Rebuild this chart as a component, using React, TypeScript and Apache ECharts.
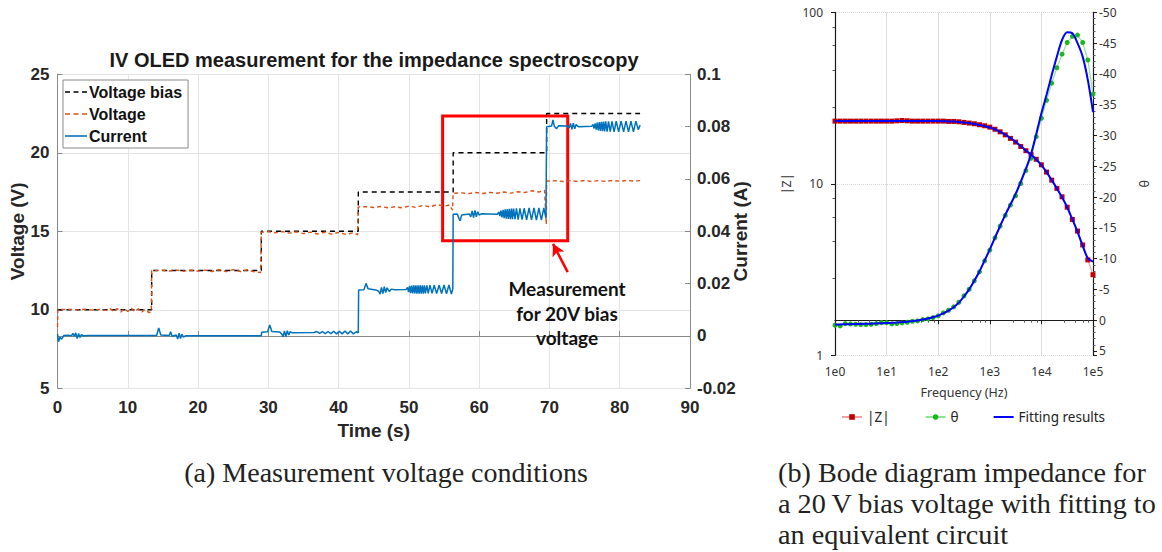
import { useEffect, useRef } from "react";
import * as echarts from "echarts";

// ---------- (a) IV OLED measurement ----------
// Voltage bias set-points [time s, V]
const voltageBias: number[][] = [
  [0, 10], [13.4, 10], [13.4, 12.5], [29.0, 12.5], [29.0, 15], [42.8, 15],
  [42.8, 17.5], [56.3, 17.5], [56.3, 20], [69.6, 20], [69.6, 22.5], [82.9, 22.5],
];

// Measured voltage [time s, V]
const voltageMeasured: number[][] = [
  [0, 8.9], [0.05, 10.02], [2, 10.03], [3, 9.99], [4, 10.04], [5, 9.98], [6, 10.03], [7, 9.96],
  [7.5, 10.06], [8, 9.9], [8.5, 10.08], [9, 9.86], [9.5, 10.06], [10, 9.9], [10.5, 10.1],
  [11, 9.88], [11.5, 10.06], [12, 9.86], [12.5, 10.02], [13.0, 9.82], [13.35, 9.88],
  [13.4, 12.5], [15, 12.52], [16, 12.47], [17, 12.53], [18, 12.46], [19, 12.52], [20, 12.46],
  [21, 12.53], [22, 12.44], [23, 12.55], [24, 12.43], [25, 12.56], [26, 12.44], [27, 12.55],
  [28, 12.42], [28.9, 12.38],
  [29.0, 14.95], [30, 14.97], [31, 14.9], [32, 14.98], [33, 14.88], [34, 14.96], [35, 14.85],
  [36, 14.95], [37, 14.83], [38, 14.94], [39, 14.82], [40, 14.93], [41, 14.8], [42, 14.9], [42.7, 14.78],
  [42.8, 16.55], [44, 16.57], [45, 16.52], [46, 16.58], [47, 16.5], [48, 16.56], [49, 16.5],
  [50, 16.6], [51, 16.52], [52, 16.65], [53, 16.55], [54, 16.7], [55, 16.6], [55.8, 16.68], [56.2, 16.35],
  [56.3, 17.42], [57.5, 17.45], [58.5, 17.4], [59.5, 17.47], [60.5, 17.41], [61.5, 17.48],
  [62.5, 17.42], [63.5, 17.5], [64.5, 17.43], [65.5, 17.52], [66.5, 17.47], [67.5, 17.58],
  [68.5, 17.5], [69.3, 17.62], [69.55, 15.45],
  [69.6, 18.2], [71, 18.22], [72, 18.17], [73, 18.23], [74, 18.18], [75, 18.24], [76, 18.17],
  [77, 18.23], [78, 18.18], [79, 18.24], [80, 18.19], [81, 18.24], [82, 18.2], [82.9, 18.23],
];

// Measured current [time s, A]
const currentMeasured: number[][] = [
  [0, 0.0008], [0.15, -0.0022], [0.35, -0.0005], [0.6, -0.0012], [0.9, 0.0002], [1.5, 0.0003],
  [2.0, 0.0001], [2.2, 0.001], [2.4, -0.0002], [2.6, 0.0012], [2.8, -0.001], [3.0, 0.0009],
  [3.2, -0.0006], [3.4, 0.0005], [3.7, 0.0001], [4.5, 0.0002],
  [14.1, 0.0002], [14.4, 0.0031], [14.7, 0.0004], [15.9, 0.0002], [16.1, 0.0016], [16.3, -0.0001],
  [16.9, 0.0004], [17.1, -0.0012], [17.3, 0.0011], [17.5, -0.001], [17.7, 0.0007], [17.9, -0.0004],
  [18.3, 0.0001], [29.0, 0.0001],
  [29.05, 0.0014], [29.9, 0.0016], [30.2, 0.0042], [30.5, 0.0017], [31.6, 0.0015], [31.9, 0.0008],
  [32.1, -0.0003], [32.3, 0.0019], [32.5, -0.0002], [32.7, 0.002], [32.9, 0.0004], [33.1, 0.0016],
  [33.4, 0.0012], [36.5, 0.0013], [36.9, 0.0017], [37.3, 0.001], [37.7, 0.0017], [38.1, 0.0009],
  [38.5, 0.0017], [38.9, 0.0009], [39.3, 0.0018], [39.7, 0.0008], [40.1, 0.0018], [40.5, 0.0008],
  [40.9, 0.0019], [41.3, 0.0008], [41.7, 0.0019], [42.1, 0.0008], [42.5, 0.0016], [42.8, 0.0012],
  [42.85, 0.0176], [43.6, 0.0177], [43.9, 0.0201], [44.2, 0.018], [45.3, 0.0176], [45.7, 0.0171],
  [45.9, 0.016], [46.1, 0.0186], [46.3, 0.0162], [46.5, 0.0188], [46.7, 0.0166], [46.9, 0.0184],
  [47.2, 0.017], [47.5, 0.0179], [48.0, 0.0177], [49.6, 0.0178],
  [49.8, 0.0186], [49.95, 0.0168], [50.1, 0.0191], [50.25, 0.0164], [50.4, 0.0192], [50.55, 0.0163],
  [50.7, 0.0193], [50.85, 0.0163], [51.0, 0.0193], [51.15, 0.0162], [51.3, 0.0193], [51.45, 0.0162],
  [51.6, 0.0193], [51.75, 0.0162], [51.9, 0.0193], [52.05, 0.0162], [52.2, 0.0193], [52.35, 0.0163],
  [52.55, 0.0193], [52.75, 0.0163], [53.0, 0.0194], [53.3, 0.0163], [53.6, 0.0194], [53.95, 0.0162],
  [54.3, 0.0194], [54.65, 0.0162], [55.0, 0.0195], [55.35, 0.0161], [55.7, 0.0195], [56.05, 0.016],
  [56.25, 0.018],
  [56.3, 0.0465], [56.9, 0.0466], [57.1, 0.045], [57.3, 0.044], [57.5, 0.0462], [58.6, 0.0466],
  [58.8, 0.0455], [59.0, 0.0478], [59.2, 0.0452], [59.4, 0.048], [59.6, 0.0455], [59.8, 0.0475],
  [60.0, 0.0462], [60.3, 0.0467], [62.6, 0.0465],
  [62.8, 0.0474], [62.95, 0.0458], [63.1, 0.0479], [63.25, 0.0453], [63.4, 0.0482], [63.55, 0.045],
  [63.7, 0.0484], [63.85, 0.0448], [64.0, 0.0485], [64.15, 0.0447], [64.3, 0.0486], [64.45, 0.0446],
  [64.6, 0.0487], [64.75, 0.0446], [64.9, 0.0487], [65.1, 0.0446], [65.3, 0.0488], [65.55, 0.0445],
  [65.8, 0.0488], [66.1, 0.0445], [66.4, 0.0488], [66.75, 0.0444], [67.1, 0.0489], [67.45, 0.0444],
  [67.8, 0.0489], [68.15, 0.0443], [68.5, 0.0489], [68.85, 0.0443], [69.2, 0.0489], [69.5, 0.045],
  [69.6, 0.08], [70.3, 0.0802], [70.5, 0.0826], [70.7, 0.0801], [71.0, 0.0792], [71.3, 0.0803],
  [72.5, 0.0802], [72.8, 0.0795], [73.0, 0.0812], [73.2, 0.079], [73.4, 0.0813], [73.6, 0.0792],
  [73.8, 0.0808], [74.1, 0.08], [76.0, 0.0801],
  [76.2, 0.0808], [76.35, 0.0793], [76.5, 0.0812], [76.65, 0.0789], [76.8, 0.0815], [76.95, 0.0786],
  [77.1, 0.0817], [77.25, 0.0784], [77.4, 0.0818], [77.55, 0.0783], [77.7, 0.0819], [77.85, 0.0782],
  [78.0, 0.082], [78.2, 0.0781], [78.4, 0.082], [78.65, 0.0781], [78.9, 0.082], [79.2, 0.078],
  [79.5, 0.0821], [79.85, 0.078], [80.2, 0.0821], [80.55, 0.078], [80.9, 0.0821], [81.25, 0.078],
  [81.6, 0.0821], [81.95, 0.078], [82.3, 0.0821], [82.65, 0.0788], [82.9, 0.0806],
];

// Highlighted 20 V measurement window [time s], [V]
const boxTime = [54.8, 72.6];
const boxVoltage = [14.4, 22.35];
// Arrow from note to the window [time s, V]
const arrowFrom = [72.6, 12.4];
const arrowTo = [70.5, 14.2];

// ---------- (b) Bode diagram ----------
const freqHz = [
  1, 1.259, 1.585, 1.995, 2.512, 3.162, 3.981, 5.012, 6.31, 7.943,
  10, 12.59, 15.85, 19.95, 25.12, 31.62, 39.81, 50.12, 63.1, 79.43,
  100, 125.9, 158.5, 199.5, 251.2, 316.2, 398.1, 501.2, 631, 794.3,
  1000, 1259, 1585, 1995, 2512, 3162, 3981, 5012, 6310, 7943,
  10000, 12589, 15849, 19953, 25119, 31623, 39811, 50119, 63096, 79433, 100000,
];
const zMagnitude = [
  23.2, 23.2, 23.2, 23.2, 23.2, 23.2, 23.2, 23.2, 23.2, 23.2,
  23.2, 23.2, 23.3, 23.4, 23.3, 23.2, 23.2, 23.2, 23.2, 23.2,
  23.2, 23.2, 23.1, 23.1, 23.0, 22.8, 22.6, 22.4, 22.1, 21.8,
  21.4, 20.8, 20.1, 19.3, 18.4, 17.5, 16.5, 15.6, 14.8, 13.9,
  12.9, 11.7, 10.5, 9.4, 8.4, 7.3, 6.2, 5.3, 4.4, 3.6, 2.95,
];
const zMagnitudeFit = [
  23.2, 23.2, 23.2, 23.2, 23.2, 23.2, 23.2, 23.2, 23.2, 23.2,
  23.2, 23.2, 23.2, 23.2, 23.2, 23.2, 23.2, 23.2, 23.2, 23.2,
  23.2, 23.15, 23.1, 23.05, 22.95, 22.8, 22.6, 22.35, 22.05, 21.7,
  21.3, 20.75, 20.1, 19.35, 18.5, 17.6, 16.6, 15.65, 14.75, 13.85,
  12.85, 11.7, 10.5, 9.4, 8.35, 7.3, 6.2, 5.25, 4.35, 3.68, 3.52,
];
const phaseDeg = [
  0.82, 0.93, 0.55, 0.6, 0.66, 0.71, 0.71, 0.66, 0.55, 0.39,
  0.39, 0.6, 0.55, 0.44, 0.33, 0.17, 0.12, -0.1, -0.21, -0.43,
  -0.7, -1.19, -1.62, -2.16, -2.92, -3.95, -5.03, -6.39, -7.85, -9.64,
  -11.38, -13.38, -15.28, -17.02, -18.7, -20.2, -22.2, -24.3, -26.3, -29.8,
  -32.8, -35.7, -38.5, -41.0, -43.2, -45.1, -46.1, -46.3, -45.1, -42.25, -36.7,
];
const phaseFit = [
  0.7, 0.68, 0.66, 0.64, 0.62, 0.6, 0.58, 0.56, 0.54, 0.5,
  0.46, 0.42, 0.37, 0.31, 0.24, 0.15, 0.04, -0.1, -0.27, -0.48,
  -0.75, -1.1, -1.55, -2.1, -2.85, -3.85, -5.0, -6.4, -7.95, -9.7,
  -11.5, -13.4, -15.3, -17.1, -18.8, -20.5, -22.5, -24.6, -27.0, -30.2,
  -33.6, -36.6, -39.8, -42.8, -45.5, -46.75, -46.6, -45.0, -42.8, -39.0, -33.8,
];

const SANS_A = "'Liberation Sans', Arial, sans-serif";
const SANS_B = "'Noto Sans', 'Open Sans', sans-serif";
const SERIF = "'Liberation Serif', 'DejaVu Serif', serif";

// Legend glyphs: plain or dashed strokes
const DASHED_ICON = "path://M0,0h5v1.6h-5z M8.5,0h5v1.6h-5z M17,0h5v1.6h-5z";
const SOLID_ICON = "path://M0,0h22v1.6h-22z";
const FIT_ICON = "path://M0,0h20v2h-20z";

function buildOption(): echarts.EChartsOption {
  const axisA = {
    axisLine: { show: true, lineStyle: { color: "#8a8a8a", width: 1 } },
    axisTick: { show: true, inside: true, length: 5, lineStyle: { color: "#8a8a8a" } },
    axisLabel: { color: "#262626", fontFamily: SANS_A, fontWeight: "bold" as const, fontSize: 17 },
    nameTextStyle: { color: "#262626", fontFamily: SANS_A, fontWeight: "bold" as const, fontSize: 19 },
    nameMoveOverlap: false,
  };
  const axisB = {
    axisLine: { show: true, lineStyle: { color: "#1a1a1a", width: 1.2 } },
    axisTick: { show: true, length: 4, lineStyle: { color: "#1a1a1a" } },
    minorTick: { show: true, length: 2.5, lineStyle: { color: "#555" } },
    axisLabel: { color: "#333", fontFamily: SANS_B, fontSize: 12 },
    nameTextStyle: { color: "#333", fontFamily: SANS_B, fontSize: 12.5 },
  };

  return {
    animation: false,
    backgroundColor: "#ffffff",
    grid: [
      { left: 57.5, top: 74.3, width: 632.5, height: 314, show: false, outerBoundsMode: "none", containLabel: false },
      { left: 835, top: 12.3, width: 258, height: 343, show: false, outerBoundsMode: "none", containLabel: false },
    ],
    legend: [
      {
        data: [
          { name: "Voltage bias", icon: DASHED_ICON },
          { name: "Voltage", icon: DASHED_ICON },
          { name: "Current", icon: SOLID_ICON },
        ],
        orient: "vertical",
        left: 63,
        top: 80,
        padding: [4, 6, 4, 2],
        itemGap: 6,
        itemWidth: 22,
        itemHeight: 1.6,
        borderColor: "#8a8a8a",
        borderWidth: 1,
        backgroundColor: "#ffffff",
        selectedMode: false,
        textStyle: { fontFamily: SANS_A, fontWeight: "bold", fontSize: 16, color: "#111", padding: [0, 0, 0, -3] },
      },
      {
        data: [{ name: "|Z|" }, { name: "θ" }, { name: "Fitting results", icon: FIT_ICON }],
        orient: "horizontal",
        left: 836,
        top: 405,
        itemGap: 35,
        itemWidth: 20,
        itemHeight: 7,
        selectedMode: false,
        textStyle: { fontFamily: SANS_B, fontSize: 13.5, color: "#222" },
      },
    ],
    xAxis: [
      {
        ...axisA,
        type: "value",
        gridIndex: 0,
        min: 0,
        max: 90,
        interval: 10,
        name: "Time (s)",
        nameLocation: "middle",
        nameGap: 33,
        axisLabel: { ...axisA.axisLabel, margin: 11 },
        splitLine: { show: true, lineStyle: { color: "#e4e4e4", width: 1 } },
      },
      {
        ...axisB,
        type: "log",
        gridIndex: 1,
        min: 1,
        max: 100000,
        name: "Frequency (Hz)",
        nameLocation: "middle",
        nameGap: 31,
        axisLabel: {
          ...axisB.axisLabel,
          margin: 10,
          formatter: (v: number) => "1e" + Math.round(Math.log10(v)),
        },
        splitLine: { show: true, lineStyle: { color: "#dcdcdc", width: 1 } },
      },
    ],
    yAxis: [
      {
        ...axisA,
        type: "value",
        gridIndex: 0,
        min: 5,
        max: 25,
        interval: 5,
        name: "Voltage (V)",
        nameLocation: "middle",
        nameGap: 31,
        axisLabel: { ...axisA.axisLabel, margin: 8 },
        splitLine: { show: true, lineStyle: { color: "#e4e4e4", width: 1 } },
      },
      {
        ...axisA,
        type: "value",
        gridIndex: 0,
        position: "right",
        min: -0.02,
        max: 0.1,
        interval: 0.02,
        name: "Current (A)",
        nameLocation: "middle",
        nameGap: 41,
        axisLabel: { ...axisA.axisLabel, margin: 7 },
        splitLine: { show: false },
      },
      {
        ...axisB,
        type: "log",
        gridIndex: 1,
        min: 1,
        max: 100,
        name: "|Z|",
        nameLocation: "middle",
        nameGap: 42,
        axisLabel: { ...axisB.axisLabel, margin: 12 },
        splitLine: { show: true, lineStyle: { color: "#d6d6d6", type: "dotted", width: 1 } },
      },
      {
        ...axisB,
        type: "value",
        gridIndex: 1,
        position: "right",
        inverse: true,
        min: -50,
        max: 5.7,
        interval: 5,
        name: "θ",
        nameLocation: "middle",
        nameGap: 44,
        nameRotate: -90,
        minorTick: { show: true, splitNumber: 5, length: 2.5, lineStyle: { color: "#555" } },
        axisLabel: {
          ...axisB.axisLabel,
          margin: 6,
          formatter: (v: number) => (Math.abs(v % 5) < 1e-6 ? String(Math.round(v)) : ""),
        },
        splitLine: { show: false },
      },
    ],
    series: [
      {
        name: "Voltage bias",
        type: "line",
        xAxisIndex: 0,
        yAxisIndex: 0,
        data: voltageBias,
        symbol: "none",
        color: "#000000",
        lineStyle: { color: "#000000", width: 1.4, type: [5, 4] },
        z: 3,
        markArea: {
          silent: true,
          itemStyle: { color: "rgba(0,0,0,0)", borderColor: "#ff0000", borderWidth: 3 },
          data: [[{ coord: [boxTime[0], boxVoltage[1]] }, { coord: [boxTime[1], boxVoltage[0]] }]],
        },
        markLine: {
          silent: true,
          symbol: ["none", "arrow"],
          symbolSize: [10, 12],
          label: { show: false },
          lineStyle: { color: "#ff0000", width: 2.5, type: "solid" },
          data: [[{ coord: arrowFrom }, { coord: arrowTo }]],
        },
      },
      {
        name: "Voltage",
        type: "line",
        xAxisIndex: 0,
        yAxisIndex: 0,
        data: voltageMeasured,
        symbol: "none",
        color: "#D95319",
        lineStyle: { color: "#D95319", width: 1.4, type: [4, 3] },
        z: 4,
      },
      {
        name: "Current",
        type: "line",
        xAxisIndex: 0,
        yAxisIndex: 1,
        data: currentMeasured,
        symbol: "none",
        color: "#0072BD",
        lineStyle: { color: "#0072BD", width: 1.5 },
        z: 5,
      },
      {
        name: "|Z|",
        type: "line",
        xAxisIndex: 1,
        yAxisIndex: 2,
        data: freqHz.map((f, i) => [f, zMagnitude[i]]),
        symbol: "rect",
        symbolSize: 5,
        color: "#c00000",
        itemStyle: { color: "#c00000" },
        lineStyle: { color: "#f3a0a0", width: 1.2 },
        z: 3,
      },
      {
        name: "θ",
        type: "line",
        xAxisIndex: 1,
        yAxisIndex: 3,
        data: freqHz.map((f, i) => [f, phaseDeg[i]]),
        symbol: "circle",
        symbolSize: 5,
        color: "#1fb51f",
        itemStyle: { color: "#1fb51f" },
        lineStyle: { color: "#8fe58f", width: 1.2 },
        z: 3,
      },
      {
        name: "Fitting results",
        type: "line",
        xAxisIndex: 1,
        yAxisIndex: 2,
        data: freqHz.map((f, i) => [f, zMagnitudeFit[i]]),
        symbol: "none",
        smooth: 0.3,
        color: "#0000ff",
        lineStyle: { color: "#0000ff", width: 2 },
        z: 4,
      },
      {
        name: "Fitting results",
        type: "line",
        xAxisIndex: 1,
        yAxisIndex: 3,
        data: freqHz.map((f, i) => [f, phaseFit[i]]),
        symbol: "none",
        smooth: 0.3,
        color: "#0000ff",
        lineStyle: { color: "#0000ff", width: 2 },
        z: 4,
      },
    ],
    graphic: [
      {
        type: "text",
        x: 374,
        y: 60,
        style: {
          text: "IV OLED measurement for the impedance spectroscopy",
          align: "center",
          verticalAlign: "middle",
          fill: "#1a1a1a",
          font: `bold 20px ${SANS_A}`,
        },
      },
      {
        type: "text",
        x: 567,
        y: 313,
        z: 10,
        style: {
          text: "Measurement\nfor 20V bias\nvoltage",
          align: "center",
          verticalAlign: "middle",
          lineHeight: 24.5,
          fill: "#111",
          font: `bold 19px Lato, 'Open Sans', sans-serif`,
        },
      },
      {
        type: "text",
        x: 386,
        y: 472,
        style: {
          text: "(a) Measurement voltage conditions",
          align: "center",
          verticalAlign: "middle",
          fill: "#222",
          font: `28px ${SERIF}`,
        },
      },
      {
        type: "text",
        x: 778,
        y: 503,
        style: {
          text: "(b) Bode diagram impedance for\na 20\u2009V bias voltage with fitting to\nan equivalent circuit",
          align: "left",
          verticalAlign: "middle",
          lineHeight: 31,
          fill: "#222",
          font: `28.2px ${SERIF}`,
        },
      },
    ],
  } as echarts.EChartsOption;
}

export default function App() {
  const ref = useRef<HTMLDivElement>(null);
  useEffect(() => {
    if (!ref.current) return;
    const chart = echarts.init(ref.current, null, { renderer: "svg" });
    chart.setOption(buildOption());
    return () => chart.dispose();
  }, []);
  return (
    <div
      ref={ref}
      style={{ position: "absolute", left: 0, top: 0, width: 1162, height: 552, background: "#ffffff" }}
    />
  );
}
